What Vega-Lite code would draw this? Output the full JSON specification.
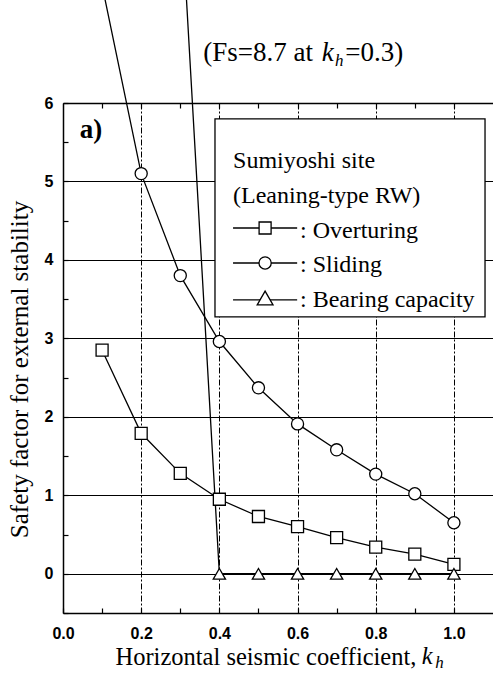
{
  "$schema": "https://vega.github.io/schema/vega-lite/v6.json",
  "width": 430,
  "height": 510,
  "autosize": {"type": "none"},
  "padding": {"left": 63, "top": 103, "right": 0, "bottom": 72},
  "background": "white",
  "config": {
    "view": {"stroke": null},
    "axis": {"domainColor": "black", "domainWidth": 1.5, "tickColor": "black", "tickWidth": 1.2, "gridColor": "black", "labelColor": "black", "titleColor": "black"},
    "text": {"font": "Liberation Serif", "color": "black", "align": "left", "baseline": "alphabetic"}
  },
  "data": {
    "values": [
      {"kh": 0.1, "series": "Overturing", "fs": 2.85},
      {"kh": 0.2, "series": "Overturing", "fs": 1.79},
      {"kh": 0.3, "series": "Overturing", "fs": 1.28},
      {"kh": 0.4, "series": "Overturing", "fs": 0.95},
      {"kh": 0.5, "series": "Overturing", "fs": 0.73},
      {"kh": 0.6, "series": "Overturing", "fs": 0.6},
      {"kh": 0.7, "series": "Overturing", "fs": 0.46},
      {"kh": 0.8, "series": "Overturing", "fs": 0.34},
      {"kh": 0.9, "series": "Overturing", "fs": 0.25},
      {"kh": 1.0, "series": "Overturing", "fs": 0.12},
      {"kh": 0.1, "series": "Sliding", "fs": 7.5},
      {"kh": 0.2, "series": "Sliding", "fs": 5.1},
      {"kh": 0.3, "series": "Sliding", "fs": 3.8},
      {"kh": 0.4, "series": "Sliding", "fs": 2.96},
      {"kh": 0.5, "series": "Sliding", "fs": 2.37},
      {"kh": 0.6, "series": "Sliding", "fs": 1.91},
      {"kh": 0.7, "series": "Sliding", "fs": 1.58},
      {"kh": 0.8, "series": "Sliding", "fs": 1.27},
      {"kh": 0.9, "series": "Sliding", "fs": 1.02},
      {"kh": 1.0, "series": "Sliding", "fs": 0.65},
      {"kh": 0.3, "series": "Bearing capacity", "fs": 8.7},
      {"kh": 0.4, "series": "Bearing capacity", "fs": 0},
      {"kh": 0.5, "series": "Bearing capacity", "fs": 0},
      {"kh": 0.6, "series": "Bearing capacity", "fs": 0},
      {"kh": 0.7, "series": "Bearing capacity", "fs": 0},
      {"kh": 0.8, "series": "Bearing capacity", "fs": 0},
      {"kh": 0.9, "series": "Bearing capacity", "fs": 0},
      {"kh": 1.0, "series": "Bearing capacity", "fs": 0}
    ]
  },
  "resolve": {"axis": {"x": "independent", "y": "independent"}},
  "layer": [
    {
      "mark": {"type": "line", "color": "black", "strokeWidth": 1.3, "clip": false},
      "encoding": {
        "x": {
          "field": "kh", "type": "quantitative",
          "scale": {"domain": [0, 1.1], "nice": false, "zero": false},
          "axis": {
            "orient": "bottom",
            "values": [0, 0.1, 0.2, 0.3, 0.4, 0.5, 0.6, 0.7, 0.8, 0.9, 1.0],
            "labelExpr": "abs(datum.value*5 - round(datum.value*5)) < 0.001 ? format(datum.value, '.1f') : ''",
            "labelFont": "Liberation Sans", "labelFontWeight": "bold", "labelFontSize": 16,
            "labelPadding": 17.5, "labelFlush": false, "labelOverlap": false,
            "ticks": true, "tickSize": -5,
            "grid": true, "gridDash": [6, 2, 2, 2], "gridWidth": 1,
            "gridOpacity": {"condition": {"test": "datum.value > 0.05 && abs(datum.value*5 - round(datum.value*5)) < 0.001", "value": 1}, "value": 0},
            "domain": true,
            "title": "Horizontal seismic coefficient,",
            "titleFont": "Liberation Serif", "titleFontSize": 24.5, "titleFontWeight": "normal",
            "titleAnchor": "start", "titleAlign": "left", "titleBaseline": "alphabetic",
            "titleX": 52, "titleY": 51
          }
        },
        "y": {
          "field": "fs", "type": "quantitative",
          "scale": {"domain": [-0.5, 6], "nice": false, "zero": false},
          "axis": {
            "orient": "left",
            "values": [-0.5, 0, 0.5, 1, 1.5, 2, 2.5, 3, 3.5, 4, 4.5, 5, 5.5, 6],
            "labelExpr": "abs(datum.value - round(datum.value)) < 0.001 ? format(datum.value, 'd') : ''",
            "labelFont": "Liberation Sans", "labelFontWeight": "bold", "labelFontSize": 16,
            "labelPadding": 15, "labelFlush": false, "labelOverlap": false,
            "ticks": true, "tickSize": -5,
            "grid": true, "gridWidth": 1,
            "gridOpacity": {"condition": {"test": "abs(datum.value - round(datum.value)) < 0.001 && datum.value > -0.1", "value": 1}, "value": 0},
            "domain": true,
            "title": "Safety factor for external stability",
            "titleFont": "Liberation Serif", "titleFontSize": 25, "titleFontWeight": "normal",
            "titleAngle": -90, "titleAlign": "center", "titleBaseline": "alphabetic",
            "titleX": -36, "titleY": 266
          }
        },
        "detail": {"field": "series"}
      }
    },
    {
      "mark": {"type": "point", "filled": true, "fill": "white", "stroke": "black", "strokeWidth": 1.3, "opacity": 1, "clip": false},
      "encoding": {
        "x": {
          "field": "kh", "type": "quantitative",
          "axis": {
            "orient": "top",
            "values": [0.1, 0.2, 0.3, 0.4, 0.5, 0.6, 0.7, 0.8, 0.9, 1.0],
            "labels": false, "ticks": true, "tickSize": -5, "grid": false, "domain": true, "title": null
          }
        },
        "y": {"field": "fs", "type": "quantitative", "axis": null},
        "shape": {
          "field": "series", "type": "nominal",
          "scale": {"domain": ["Overturing", "Sliding", "Bearing capacity"], "range": ["square", "circle", "triangle-up"]},
          "legend": null
        },
        "size": {
          "field": "series", "type": "nominal",
          "scale": {"domain": ["Overturing", "Sliding", "Bearing capacity"], "range": [144, 150, 250]},
          "legend": null
        }
      }
    },
    {
      "data": {"values": [{}]},
      "mark": {"type": "text", "text": "a)", "fontSize": 27, "fontWeight": "bold"},
      "encoding": {"x": {"datum": 0.043, "type": "quantitative", "axis": null}, "y": {"datum": 5.55, "type": "quantitative", "axis": null}}
    },
    {
      "data": {"values": [{}]},
      "mark": {"type": "text", "text": "(Fs=8.7 at", "fontSize": 27},
      "encoding": {"x": {"datum": 0.359, "type": "quantitative", "axis": null}, "y": {"datum": 6.536, "type": "quantitative", "axis": null}}
    },
    {
      "data": {"values": [{}]},
      "mark": {"type": "text", "text": "k", "fontSize": 27, "fontStyle": "italic"},
      "encoding": {"x": {"datum": 0.662, "type": "quantitative", "axis": null}, "y": {"datum": 6.536, "type": "quantitative", "axis": null}}
    },
    {
      "data": {"values": [{}]},
      "mark": {"type": "text", "text": "h", "fontSize": 17, "fontStyle": "italic"},
      "encoding": {"x": {"datum": 0.696, "type": "quantitative", "axis": null}, "y": {"datum": 6.472, "type": "quantitative", "axis": null}}
    },
    {
      "data": {"values": [{}]},
      "mark": {"type": "text", "text": "=0.3)", "fontSize": 27},
      "encoding": {"x": {"datum": 0.722, "type": "quantitative", "axis": null}, "y": {"datum": 6.536, "type": "quantitative", "axis": null}}
    },
    {
      "data": {"values": [{}]},
      "mark": {"type": "text", "text": "k", "fontSize": 24.5, "fontStyle": "italic"},
      "encoding": {"x": {"datum": 0.918, "type": "quantitative", "axis": null}, "y": {"datum": -1.15, "type": "quantitative", "axis": null}}
    },
    {
      "data": {"values": [{}]},
      "mark": {"type": "text", "text": "h", "fontSize": 17, "fontStyle": "italic"},
      "encoding": {"x": {"datum": 0.952, "type": "quantitative", "axis": null}, "y": {"datum": -1.2, "type": "quantitative", "axis": null}}
    },
    {
      "data": {"values": [{}]},
      "mark": {"type": "rect", "fill": "white", "stroke": "black", "strokeWidth": 1.3},
      "encoding": {
        "x": {"datum": 0.3888, "type": "quantitative", "axis": null},
        "x2": {"datum": 1.0796},
        "y": {"datum": 5.797, "type": "quantitative", "axis": null},
        "y2": {"datum": 3.273}
      }
    },
    {
      "data": {"values": [{}]},
      "mark": {"type": "text", "text": "Sumiyoshi site", "fontSize": 24},
      "encoding": {"x": {"datum": 0.435, "type": "quantitative", "axis": null}, "y": {"datum": 5.172, "type": "quantitative", "axis": null}}
    },
    {
      "data": {"values": [{}]},
      "mark": {"type": "text", "text": "(Leaning-type RW)", "fontSize": 24},
      "encoding": {"x": {"datum": 0.435, "type": "quantitative", "axis": null}, "y": {"datum": 4.726, "type": "quantitative", "axis": null}}
    },
    {
      "data": {"values": [{}]},
      "mark": {"type": "rule", "color": "black", "strokeWidth": 1.3},
      "encoding": {"x": {"datum": 0.435, "type": "quantitative", "axis": null}, "x2": {"datum": 0.599}, "y": {"datum": 4.407, "type": "quantitative", "axis": null}}
    },
    {
      "data": {"values": [{}]},
      "mark": {"type": "rule", "color": "black", "strokeWidth": 1.3},
      "encoding": {"x": {"datum": 0.435, "type": "quantitative", "axis": null}, "x2": {"datum": 0.599}, "y": {"datum": 3.961, "type": "quantitative", "axis": null}}
    },
    {
      "data": {"values": [{}]},
      "mark": {"type": "rule", "color": "black", "strokeWidth": 1.3},
      "encoding": {"x": {"datum": 0.435, "type": "quantitative", "axis": null}, "x2": {"datum": 0.599}, "y": {"datum": 3.49, "type": "quantitative", "axis": null}}
    },
    {
      "data": {"values": [{}]},
      "mark": {"type": "point", "shape": "square", "size": 144, "filled": true, "fill": "white", "stroke": "black", "strokeWidth": 1.3, "opacity": 1},
      "encoding": {"x": {"datum": 0.517, "type": "quantitative", "axis": null}, "y": {"datum": 4.407, "type": "quantitative", "axis": null}}
    },
    {
      "data": {"values": [{}]},
      "mark": {"type": "point", "shape": "circle", "size": 150, "filled": true, "fill": "white", "stroke": "black", "strokeWidth": 1.3, "opacity": 1},
      "encoding": {"x": {"datum": 0.517, "type": "quantitative", "axis": null}, "y": {"datum": 3.961, "type": "quantitative", "axis": null}}
    },
    {
      "data": {"values": [{}]},
      "mark": {"type": "point", "shape": "triangle-up", "size": 250, "filled": true, "fill": "white", "stroke": "black", "strokeWidth": 1.3, "opacity": 1},
      "encoding": {"x": {"datum": 0.517, "type": "quantitative", "axis": null}, "y": {"datum": 3.515, "type": "quantitative", "axis": null}}
    },
    {
      "data": {"values": [{}]},
      "mark": {"type": "text", "text": ": Overturing", "fontSize": 24},
      "encoding": {"x": {"datum": 0.6063, "type": "quantitative", "axis": null}, "y": {"datum": 4.281, "type": "quantitative", "axis": null}}
    },
    {
      "data": {"values": [{}]},
      "mark": {"type": "text", "text": ": Sliding", "fontSize": 24},
      "encoding": {"x": {"datum": 0.6063, "type": "quantitative", "axis": null}, "y": {"datum": 3.847, "type": "quantitative", "axis": null}}
    },
    {
      "data": {"values": [{}]},
      "mark": {"type": "text", "text": ": Bearing capacity", "fontSize": 24},
      "encoding": {"x": {"datum": 0.6063, "type": "quantitative", "axis": null}, "y": {"datum": 3.401, "type": "quantitative", "axis": null}}
    }
  ]
}
